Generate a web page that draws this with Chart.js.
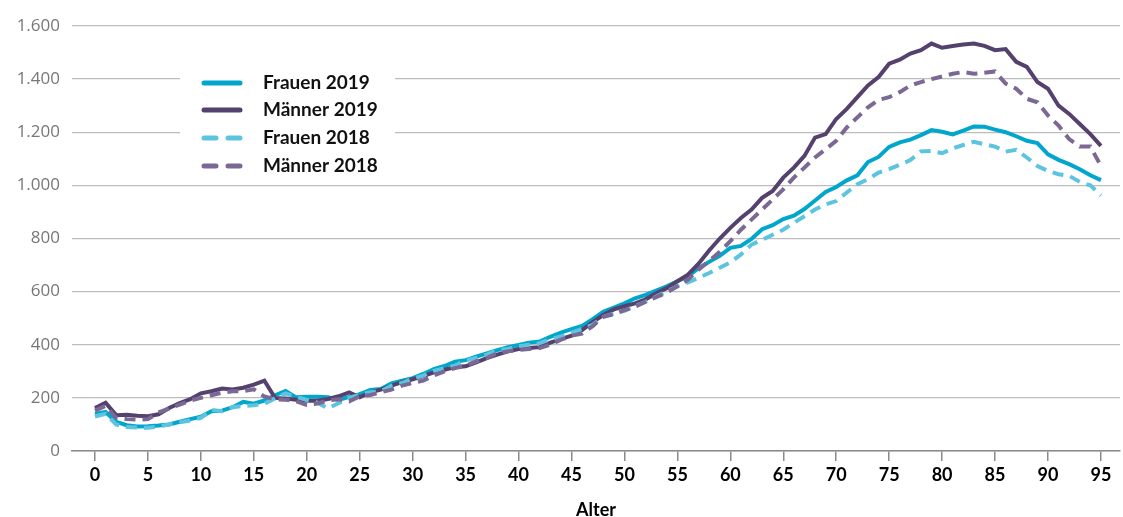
<!DOCTYPE html>
<html>
<head>
<meta charset="utf-8">
<script src="https://cdn.jsdelivr.net/npm/chart.js@4/dist/chart.umd.min.js"></script>
<style>
html,body{margin:0;padding:0;background:#fff;}
#wrap{width:1123px;height:517px;position:relative;}
</style>
</head>
<body>
<div id="wrap"><canvas id="c" width="1123" height="517"></canvas></div>
<script>
const ages = [];
for (let a = 0; a <= 95; a++) ages.push(a);

const xTicks = [0,5,10,15,20,25,30,35,40,45,50,55,60,65,70,75,80,85,90,95];
const yTicks = [0,200,400,600,800,1000,1200,1400,1600];

const frauen2019 = [139,147,110,97,92,93,96,100,110,120,129,150,152,165,185,178,190,210,226,202,
204,204,202,192,204,214,230,233,255,265,274,290,308,320,336,342,355,367,380,391,
399,408,412,430,446,459,471,496,524,540,556,575,588,604,620,639,658,688,712,735,
765,772,798,835,850,873,886,911,943,975,994,1019,1038,1088,1107,1145,1162,1172,1189,1208,
1202,1192,1206,1222,1221,1210,1200,1185,1168,1159,1117,1096,1080,1061,1038,1020];

const maenner2019 = [162,182,135,136,133,131,138,162,180,195,217,225,235,232,238,250,265,200,198,193,
189,189,196,206,221,202,221,231,246,259,270,282,296,306,316,319,334,350,363,375,
384,388,391,408,421,434,455,485,512,533,545,556,571,594,613,639,664,705,755,800,
840,877,909,953,979,1029,1067,1111,1180,1193,1250,1288,1332,1376,1408,1458,1473,1496,1509,1534,
1518,1525,1530,1534,1525,1509,1513,1465,1446,1389,1364,1300,1269,1231,1193,1149];

const frauen2018 = [130,140,100,90,88,88,92,100,108,115,125,155,150,165,170,172,178,198,217,204,
192,182,161,180,200,212,221,225,246,256,272,284,302,312,321,341,350,363,379,384,
394,400,406,421,431,446,459,475,505,518,528,545,562,581,601,620,635,652,670,690,
710,740,777,795,814,833,859,884,909,928,941,973,1004,1023,1048,1061,1078,1095,1128,1130,
1121,1139,1152,1164,1155,1146,1127,1134,1105,1073,1054,1042,1036,1013,1000,962];

const maenner2018 = [152,170,125,120,118,120,145,160,175,190,200,210,220,225,225,232,205,195,193,187,
173,179,190,195,187,206,211,221,231,246,256,265,284,300,312,321,337,350,369,375,
381,384,388,400,419,434,442,470,505,515,530,543,562,579,597,620,645,683,715,750,
790,833,871,909,947,985,1029,1067,1105,1136,1168,1218,1256,1294,1322,1332,1351,1376,1389,1400,
1410,1420,1427,1420,1424,1429,1383,1364,1326,1313,1263,1225,1174,1146,1146,1073];

const seriesNames = ['Frauen 2019','Männer 2019','Frauen 2018','Männer 2018'];
const seriesColors = ['#00A6CC','#54416D','#5DC4E0','#7B6894'];
const seriesDash = [[],[],[11,7],[11,7]];
const seriesValues = [frauen2019, maenner2019, frauen2018, maenner2018];

const toPts = vals => ages.map((a,i)=>({x:a,y:vals[i]}));

const datasets = seriesValues.map((vals,i)=>({
  label: seriesNames[i],
  data: toPts(vals),
  borderColor: seriesColors[i],
  backgroundColor: seriesColors[i],
  borderWidth: 4,
  borderDash: seriesDash[i],
  pointRadius: 0,
  tension: 0,
  fill: false,
  order: [3,2,1,0][i]
}));

const legendPlugin = {
  id: 'customLegend',
  afterDatasetsDraw(chart) {
    const ctx = chart.ctx;
    ctx.save();
    ctx.fillStyle = '#fff';
    ctx.fillRect(180, 62, 215, 118);
    const rows = [83, 110, 138, 166];
    seriesNames.forEach((name,i)=>{
      const y = rows[i];
      ctx.beginPath();
      ctx.strokeStyle = seriesColors[i];
      ctx.lineWidth = 5;
      ctx.lineCap = 'round';
      if (seriesDash[i].length) ctx.setLineDash([12,12]); else ctx.setLineDash([]);
      ctx.moveTo(204, y);
      ctx.lineTo(240, y);
      ctx.stroke();
      ctx.setLineDash([]);
      ctx.fillStyle = '#111';
      ctx.font = 'bold 19px Lato';
      ctx.textAlign = 'left';
      ctx.textBaseline = 'middle';
      ctx.fillText(name, 263, y);
    });
    ctx.restore();
  }
};

new Chart(document.getElementById('c'), {
  type: 'line',
  data: { datasets },
  plugins: [legendPlugin],
  options: {
    responsive: false,
    animation: false,
    layout: { padding: { top: 26, right: 3, left: 0, bottom: 0 } },
    plugins: { legend: { display: false }, tooltip: { enabled: false } },
    scales: {
      x: {
        type: 'linear',
        min: -2.17,
        max: 96.8,
        afterBuildTicks: s => { s.ticks = xTicks.map(v=>({value:v})); },
        afterFit: s => { s.height = 66; },
        border: { display: true, color: '#8a8a8a', width: 1.5 },
        grid: { drawOnChartArea: false, drawTicks: true, tickLength: 10, color: '#8a8a8a', lineWidth: 1.5 },
        ticks: { color: '#000', font: { family: 'Lato', weight: 'bold', size: 18 }, padding: 3, maxRotation: 0, autoSkip: false },
        title: { display: true, text: 'Alter', color: '#000', font: { family: 'Lato', weight: 'bold', size: 18 }, padding: { top: 4, bottom: -4 } }
      },
      y: {
        min: 0,
        max: 1600,
        afterBuildTicks: s => { s.ticks = yTicks.map(v=>({value:v})); },
        afterFit: s => { s.width = 72; },
        border: { display: false },
        grid: { drawTicks: false, color: '#bdbdbd', lineWidth: 1.3 },
        ticks: { color: '#777', font: { family: 'Open Sans', size: 17 }, padding: 12,
          callback: v => v.toLocaleString('de-DE') }
      }
    }
  }
});
</script>
</body>
</html>
